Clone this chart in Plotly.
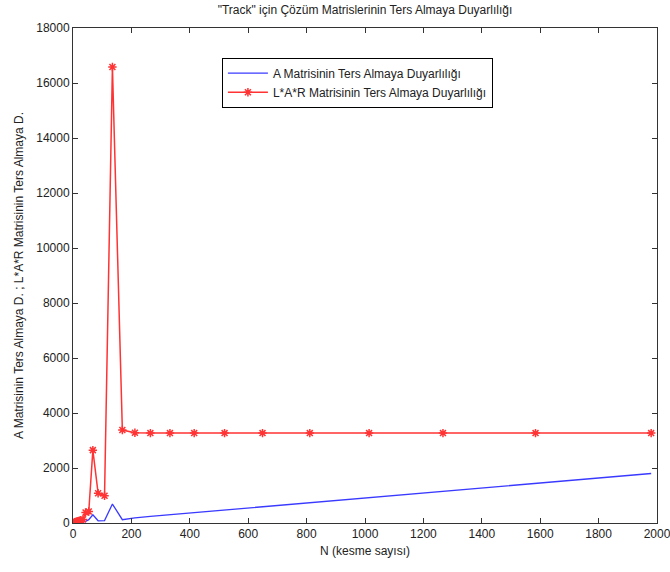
import plotly.graph_objects as go

N = [5, 8, 11, 14, 17, 22, 27, 34, 43, 54, 68, 86, 108, 135, 169, 212, 265,
     332, 415, 519, 649, 811, 1014, 1267, 1584, 1980]
a_sens = [2, 4, 6, 8, 10, 14, 20, 30, 60, 120, 300, 80, 90, 690, 120, 190, 240,
          300, 375, 470, 590, 735, 920, 1150, 1440, 1800]
lar_sens = [20, 30, 40, 60, 70, 80, 100, 130, 380, 420, 2650, 1080, 990, 16580,
            3380, 3280, 3270, 3270, 3270, 3270, 3270, 3270, 3270, 3270, 3270, 3270]

x_ticks = [0, 200, 400, 600, 800, 1000, 1200, 1400, 1600, 1800, 2000]
y_ticks = [0, 2000, 4000, 6000, 8000, 10000, 12000, 14000, 16000, 18000]

name_a = "A Matrisinin Ters Almaya Duyarlılığı"
name_lar = "L*A*R Matrisinin Ters Almaya Duyarlılığı"
title = "\"Track\" için Çözüm Matrislerinin Ters Almaya Duyarlılığı"
xlabel = "N (kesme sayısı)"
ylabel = "A Matrisinin Ters Almaya D. ; L*A*R Matrisinin Ters Almaya D."

FONT = "Liberation Sans, Arial, sans-serif"

fig = go.Figure()
fig.add_trace(go.Scatter(x=N, y=a_sens, mode="lines", name=name_a,
                         line=dict(color="#3a3aff", width=1.3)))
fig.add_trace(go.Scatter(x=N, y=lar_sens, mode="lines+markers", name=name_lar,
                         line=dict(color="#ff3333", width=1.5),
                         marker=dict(symbol="asterisk-open", size=7,
                                     line=dict(color="#ff0000", width=1.5))))

axis_common = dict(showline=True, linecolor="#333", linewidth=1, mirror="ticks",
                   ticks="inside", ticklen=5, tickcolor="#333", showgrid=False,
                   zeroline=False, ticklabeloverflow="allow",
                   tickfont=dict(family=FONT, size=12, color="#222"))

fig.update_layout(
    width=670, height=572,
    margin=dict(l=73, r=13, t=28, b=49, autoexpand=False),
    paper_bgcolor="white", plot_bgcolor="white",
    font=dict(family=FONT, size=12, color="#222"),
    title=dict(text=title, x=(73 + 657) / 2 / 670, xanchor="center",
               y=1 - 10 / 572, yanchor="middle",
               font=dict(family=FONT, size=12, color="#222")),
    xaxis=dict(range=[0, 2000], tickmode="array", tickvals=x_ticks,
               ticktext=[str(v) for v in x_ticks], automargin=False,
               title=dict(text=xlabel, standoff=6, font=dict(family=FONT, size=12)),
               **axis_common),
    yaxis=dict(range=[0, 18000], tickmode="array", tickvals=y_ticks,
               ticktext=[str(v) for v in y_ticks], automargin=False,
               title=dict(text=ylabel, standoff=10, font=dict(family=FONT, size=12)),
               **axis_common),
    legend=dict(x=0.255, y=0.94, xanchor="left", yanchor="top",
                bordercolor="black", borderwidth=1, bgcolor="white",
                font=dict(family=FONT, size=12, color="#222"),
                itemwidth=40, tracegroupgap=0, entrywidth=260,
                entrywidthmode="pixels"),
    showlegend=True,
)

fig.write_html("out.html")
